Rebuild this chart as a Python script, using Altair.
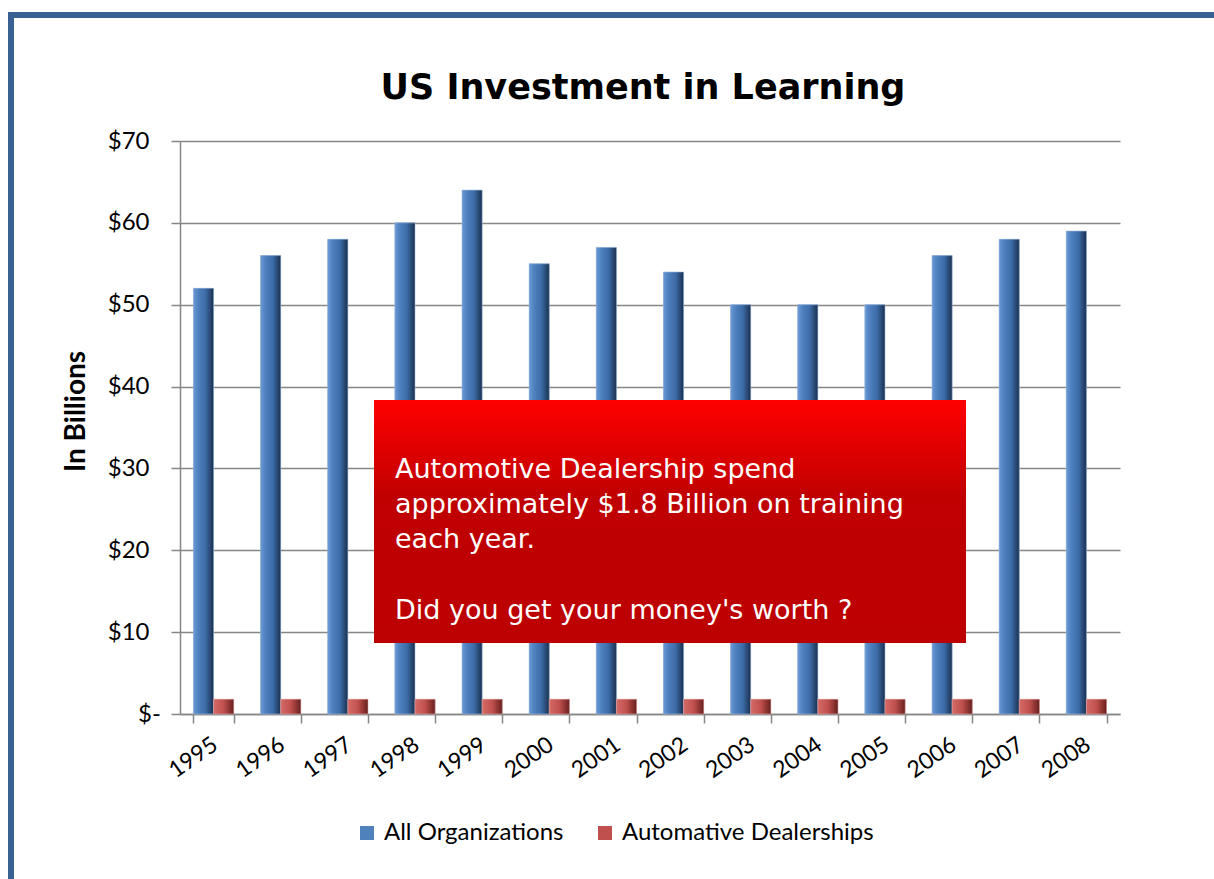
import altair as alt
import pandas as pd

years = ["1995", "1996", "1997", "1998", "1999", "2000", "2001",
         "2002", "2003", "2004", "2005", "2006", "2007", "2008"]
all_orgs = [52, 56, 58, 60, 64, 55, 57, 54, 50, 50, 50, 56, 58, 59]
dealers = [1.8, 1.8, 1.8, 1.8, 1.8, 1.8, 1.8, 1.8, 1.8, 1.8, 1.8, 1.8, 1.8, 1.8]
series_names = ["All Organizations", "Automative Dealerships"]
series_colors = ["#4F81BD", "#C0504D"]
y_ticks = [0, 10, 20, 30, 40, 50, 60, 70]
title_text = "US Investment in Learning"
y_title = "In Billions"
note_lines = ["Automotive Dealership spend",
              "approximately $1.8 Billion on training",
              "each year."]
note_question = "Did you get your money's worth ?"

rows = []
for i, yr in enumerate(years):
    rows.append({"year": yr, "series": series_names[0], "value": all_orgs[i]})
    rows.append({"year": yr, "series": series_names[1], "value": dealers[i]})
df = pd.DataFrame(rows)

FONT = "Lato"
W, H = 940, 573

x_enc = alt.X("year:N", sort=years,
              scale=alt.Scale(paddingInner=0.4, paddingOuter=0.2),
              axis=alt.Axis(title=None, labelAngle=-35, labelFontSize=23, labelFont=FONT,
                            labelColor="#000000", tickBand="extent", tickColor="#868686",
                            tickSize=9, tickWidth=1.5, domainColor="#868686", domainWidth=1.5,
                            labelPadding=10, labelOffset=-5, grid=False))
xoff = alt.XOffset("series:N", scale=alt.Scale(domain=series_names, paddingInner=0))
y_enc = alt.Y("value:Q", scale=alt.Scale(domain=[0, 70], nice=False),
              axis=alt.Axis(values=y_ticks, title=y_title, titleFontSize=28, titleFont=FONT,
                            titleFontWeight="bold", titleColor="#000000",
                            titleX=-90, titleY=270, titleAlign="center",
                            labelFontSize=24, labelFont=FONT, labelColor="#000000",
                            labelPadding=22, tickSize=9, tickColor="#868686", tickWidth=1.5,
                            domainColor="#868686", domainWidth=1.5,
                            gridColor="#868686", gridWidth=1.5,
                            labelAlign={"condition": {"test": "datum.value == 0", "value": "center"},
                                        "value": "right"},
                            labelExpr="datum.value == 0 ? '$-' : '$' + datum.value"))

base = alt.Chart(df).mark_bar().encode(
    x=x_enc, xOffset=xoff, y=y_enc,
    color=alt.Color("series:N", scale=alt.Scale(domain=series_names, range=series_colors),
                    legend=alt.Legend(title=None, orient="none", legendX=175, legendY=680,
                                      direction="horizontal", symbolType="square",
                                      symbolSize=196, symbolStrokeWidth=0, labelLimit=0,
                                      labelFontSize=24, labelFont=FONT, labelColor="#000000",
                                      columnPadding=29, symbolOffset=0, labelOffset=5)),
)

blue_grad = alt.Gradient(gradient="linear", x1=0, x2=1, y1=0, y2=0, stops=[
    alt.GradientStop(offset=0, color="#6A9AD6"),
    alt.GradientStop(offset=0.25, color="#4E80BF"),
    alt.GradientStop(offset=0.6, color="#3D6CA8"),
    alt.GradientStop(offset=0.9, color="#233F66"),
    alt.GradientStop(offset=1, color="#1A2F4D")])
red_grad = alt.Gradient(gradient="linear", x1=0, x2=1, y1=0, y2=0, stops=[
    alt.GradientStop(offset=0, color="#D46A67"),
    alt.GradientStop(offset=0.5, color="#C0504D"),
    alt.GradientStop(offset=0.9, color="#7A2A28"),
    alt.GradientStop(offset=1, color="#5C1E1C")])

blue = alt.Chart(df).transform_filter(alt.datum.series == series_names[0]).mark_bar(
    color=blue_grad, stroke="#9DB9DE", strokeWidth=0.6).encode(x=x_enc, xOffset=xoff, y=y_enc)
red = alt.Chart(df).transform_filter(alt.datum.series == series_names[1]).mark_bar(
    color=red_grad, stroke="#E3A6A4", strokeWidth=0.6).encode(x=x_enc, xOffset=xoff, y=y_enc)

one = pd.DataFrame({"k": [0]})
box_grad = alt.Gradient(gradient="linear", x1=0, x2=0, y1=0, y2=1, stops=[
    alt.GradientStop(offset=0, color="#FF0000"),
    alt.GradientStop(offset=0.4, color="#C00000"),
    alt.GradientStop(offset=1, color="#BC0000")])
box = alt.Chart(one).mark_rect(color=box_grad).encode(
    x=alt.value(194), x2=alt.value(786), y=alt.value(259), y2=alt.value(502))
note = alt.Chart(one).mark_text(align="left", baseline="alphabetic", fontSize=27,
                                font="DejaVu Sans", color="#FFFFFF", lineHeight=35).encode(
    x=alt.value(215), y=alt.value(337), text=alt.value(note_lines))
note2 = alt.Chart(one).mark_text(align="left", baseline="alphabetic", fontSize=27,
                                 font="DejaVu Sans", color="#FFFFFF").encode(
    x=alt.value(215), y=alt.value(478), text=alt.value(note_question))

title = alt.Chart(one).mark_text(align="center", baseline="alphabetic", fontSize=35,
                                 font="DejaVu Sans", fontWeight="bold", color="#000000").encode(
    x=alt.value(463), y=alt.value(-42), text=alt.value(title_text))

frame_top = alt.Chart(one).mark_rule(color="#3A6193", strokeWidth=6).encode(
    x=alt.value(-172), x2=alt.value(1040), y=alt.value(-126))
frame_left = alt.Chart(one).mark_rule(color="#3A6193", strokeWidth=6).encode(
    x=alt.value(-169), y=alt.value(-129), y2=alt.value(745))

chart = alt.layer(base, blue, red, box, note, note2, title, frame_top, frame_left).properties(
    width=W, height=H,
    autosize=alt.AutoSizeParams(type="none"),
    padding={"left": 180, "top": 141, "right": 94, "bottom": 165},
    background="#FFFFFF",
).configure_view(stroke=None)

chart.save("out.html", embed_options={"renderer": "svg", "actions": False})
